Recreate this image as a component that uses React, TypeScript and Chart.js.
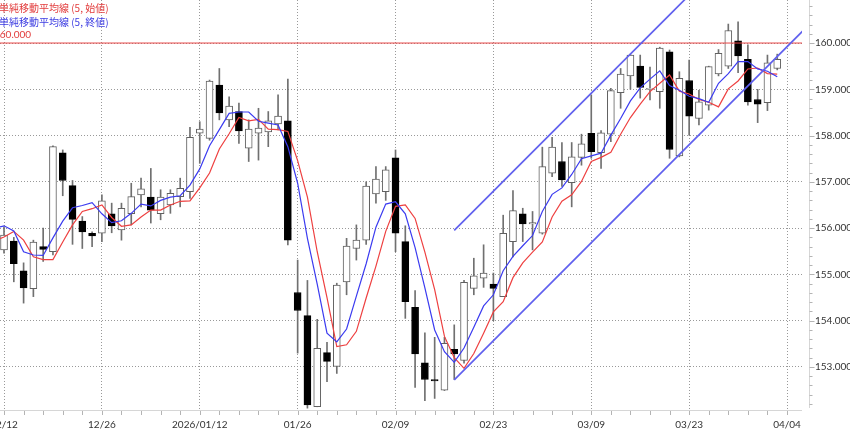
import React, { useEffect, useRef } from "react";
import { Chart, registerables } from "chart.js";

Chart.register(...registerables);

// ---- data ----
const xTickLabels = ["12/12", "12/26", "2026/01/12", "01/26", "02/09", "02/23", "03/09", "03/23", "04/04"];
const yTickValues = [153, 154, 155, 156, 157, 158, 159, 160];

const opens = [
  155.53, 155.72, 155.08, 154.69, 155.6, 155.49, 157.63, 156.92, 156.15, 155.89,
  155.89, 156.31, 155.96, 156.31, 156.72, 156.67, 156.31, 156.5, 156.68, 156.79,
  158.05, 157.94, 159.09, 158.34, 158.52, 157.73, 158.05, 158.08, 158.25, 158.32,
  154.61, 154.11, 152.14, 153.31, 153.01, 154.84, 155.56, 155.74, 156.74, 156.79,
  157.52, 155.71, 154.29, 153.09, 152.73, 152.5, 153.38, 153.14, 154.7, 154.92,
  154.79, 154.52, 155.71, 156.31, 156.09, 155.89, 157.19, 157.44, 156.98, 157.53,
  158.05, 157.63, 158.03, 158.93, 159.29, 159.5, 159.0, 158.95, 159.81, 157.56,
  159.19, 158.37, 158.66, 159.33, 159.5, 160.05, 159.65, 158.78, 158.71, 159.45,
];
const highs = [
  156.03, 155.8, 155.25, 155.74, 156.0, 157.78, 157.69, 157.03, 156.25, 155.92,
  156.72, 156.54, 156.54, 156.97, 157.08, 157.29, 156.83, 156.83, 157.08, 158.18,
  158.3, 159.2, 159.45, 158.84, 158.7, 158.34, 158.59, 158.52, 158.88, 159.22,
  155.31, 154.87, 154.03, 153.53, 154.81, 155.78, 156.07, 157.0, 157.33, 157.33,
  157.69, 156.05, 154.65, 153.74, 153.64, 153.64, 153.91, 154.87, 155.35, 155.64,
  155.03, 156.28, 156.81, 156.43, 156.36, 157.75, 157.96, 157.85, 157.85, 158.03,
  158.88, 158.11, 159.02, 159.45, 159.76, 159.74, 159.48, 159.91, 159.85, 159.38,
  159.63, 158.98, 159.5, 159.86, 160.41, 160.46, 159.96, 159.0, 159.74, 159.76,
];
const lows = [
  155.46, 154.84, 154.38, 154.52, 155.28, 155.42, 156.7, 155.65, 155.56, 155.6,
  155.71, 155.9, 155.74, 156.07, 156.46, 156.11, 156.18, 156.32, 156.46, 156.64,
  157.4, 157.9, 158.34, 158.19, 157.83, 157.44, 157.47, 157.76, 158.12, 155.64,
  153.3, 152.11, 152.14, 152.68, 152.86, 154.56, 155.31, 155.65, 156.54, 156.6,
  155.49, 154.05, 152.56, 152.27, 152.32, 152.49, 152.73, 153.08, 154.56, 154.72,
  154.0, 154.52, 155.38, 155.71, 155.53, 155.87, 157.11, 156.9, 156.46, 157.36,
  157.51, 157.29, 157.87, 158.59, 159.0, 158.81, 158.77, 158.59, 157.51, 157.54,
  158.01, 158.23, 158.55, 159.29, 159.45, 159.36, 158.66, 158.28, 158.54, 159.42,
];
const closes = [
  155.85, 155.23, 154.71, 155.7, 155.54, 157.76, 157.03, 156.19, 155.92, 155.83,
  156.59, 156.05, 156.43, 156.68, 156.85, 156.39, 156.67, 156.75, 156.86, 157.96,
  158.14, 159.18, 158.49, 158.64, 158.1, 158.14, 158.16, 158.32, 158.42, 155.74,
  154.22, 152.18, 153.4, 153.12, 154.77, 155.61, 155.74, 156.91, 157.06, 157.26,
  155.89, 154.41, 153.28, 152.73, 152.7, 153.51, 153.28, 154.83, 154.97, 155.03,
  154.7, 155.89, 156.38, 156.09, 156.12, 157.33, 157.75, 157.04, 157.54, 157.82,
  157.65, 158.06, 158.97, 159.33, 159.74, 159.04, 159.02, 159.89, 157.7, 159.24,
  158.42, 158.73, 159.49, 159.78, 160.27, 159.72, 158.73, 158.68, 159.57, 159.65,
];

// moving averages, starting one bar before the first visible candle
const maStartIndex = -1;
const maOpen = [
  155.72, 155.81, 155.93, 155.74, 155.38,
  155.32, 155.32, 155.7, 156.07, 156.36, 156.42,
  156.5, 156.23, 156.04, 156.07, 156.24, 156.39, 156.39, 156.5, 156.58, 156.59,
  156.87, 157.19, 157.71, 158.04, 158.39, 158.32, 158.35, 158.14, 158.13, 158.09,
  157.46, 156.67, 155.49, 154.5, 153.44, 153.48, 153.77, 154.49, 155.18, 155.93,
  156.47, 156.5, 156.21, 155.48, 154.67, 153.66, 153.2, 152.97, 153.29, 153.73,
  154.19, 154.41, 154.93, 155.25, 155.48, 155.7, 156.24, 156.58, 156.72, 157.01,
  157.44, 157.53, 157.64, 158.03, 158.39, 158.68, 158.95, 159.13, 159.31, 158.96,
  158.9, 158.78, 158.72, 158.62, 159.01, 159.18, 159.44, 159.46, 159.34, 159.33,
];
const maClose = [
  155.99, 156.05, 155.94, 155.49, 155.42,
  155.41, 155.79, 156.15, 156.44, 156.49, 156.55,
  156.31, 156.12, 156.16, 156.32, 156.52, 156.48, 156.6, 156.67, 156.7, 156.93,
  157.28, 157.78, 158.13, 158.48, 158.51, 158.51, 158.31, 158.27, 158.23, 157.76,
  156.97, 155.78, 154.79, 153.73, 153.54, 153.82, 154.53, 155.23, 156.02, 156.52,
  156.57, 156.31, 155.58, 154.71, 153.8, 153.33, 153.1, 153.41, 153.86, 154.32,
  154.56, 155.08, 155.39, 155.62, 155.84, 156.36, 156.73, 156.87, 157.16, 157.5,
  157.56, 157.62, 158.01, 158.37, 158.75, 159.03, 159.22, 159.4, 159.08, 158.98,
  158.85, 158.8, 158.72, 159.13, 159.34, 159.6, 159.6, 159.44, 159.39, 159.27,
];

const levelValue = 160;
const levelLabel = "160.000";
const channelX = [46, 81.6];
const channelLow = [152.72, 160.26];
const channelHigh = [155.95, 163.49];

const legendOpen = "単純移動平均線 (5, 始値)";
const legendClose = "単純移動平均線 (5, 終値)";

const xAxisMin = -0.41;
const xAxisMax = 81.53;
const yAxisMin = 152.07;
const yAxisMax = 160.93;

export default function App() {
  const ref = useRef<HTMLCanvasElement>(null);

  useEffect(() => {
    document.body.style.margin = "0";
    const canvas = ref.current;
    if (!canvas) return;
    const idx = opens.map((_, i) => i);
    const up = idx.map((i) => closes[i] >= opens[i]);

    const decor = {
      id: "decor",
      afterDraw(chart: any) {
        const { ctx, chartArea: a } = chart;
        const xs = chart.scales.x;
        const ys = chart.scales.y;
        ctx.save();
        ctx.lineWidth = 1;
        // x axis line
        ctx.strokeStyle = "#d6d6d6";
        ctx.beginPath();
        ctx.moveTo(a.left, Math.round(a.bottom) + 0.5);
        ctx.lineTo(a.right, Math.round(a.bottom) + 0.5);
        ctx.stroke();
        // x minor ticks (every 2 bars)
        ctx.strokeStyle = "#b4b4b4";
        ctx.beginPath();
        for (let i = 0; i <= 80; i += 2) {
          const px = Math.round(xs.getPixelForValue(i)) + 0.5;
          ctx.moveTo(px, a.bottom + 1);
          ctx.lineTo(px, a.bottom + 5);
        }
        ctx.stroke();
        // y axis line
        const axX = Math.round(a.right) + 7.5;
        ctx.strokeStyle = "#d6d6d6";
        ctx.beginPath();
        ctx.moveTo(axX, a.top);
        ctx.lineTo(axX, a.bottom - 2);
        ctx.stroke();
        ctx.strokeStyle = "#b4b4b4";
        ctx.beginPath();
        for (let k = Math.ceil(ys.min * 5); k <= Math.floor(ys.max * 5); k++) {
          const py = Math.round(ys.getPixelForValue(k / 5)) + 0.5;
          const len = k % 5 === 0 ? 5 : 3;
          ctx.moveTo(axX, py);
          ctx.lineTo(axX + len, py);
        }
        ctx.stroke();
        // legend texts
        ctx.textBaseline = "middle";
        ctx.textAlign = "left";
        ctx.font = '10px "Noto Sans CJK JP", sans-serif';
        ctx.fillStyle = "#e23c3c";
        ctx.fillText(legendOpen, -1, 8);
        ctx.fillStyle = "#3c3ce2";
        ctx.fillText(legendClose, -1, 22);
        ctx.font = "10px Lato, sans-serif";
        ctx.fillStyle = "#e23c3c";
        ctx.fillText(levelLabel, -6, 35);
        ctx.restore();
      },
    };

    const tickFont = { family: "Lato", size: 10 };

    const chart = new Chart(canvas, {
      type: "bar",
      data: {
        datasets: [
          {
            type: "bar",
            label: "wick",
            data: idx.map((i) => ({ x: i, y: [lows[i], highs[i]] })) as any,
            backgroundColor: "#707070",
            borderWidth: 0,
            barThickness: 1,
            grouped: false,
            order: 10,
          } as any,
          {
            type: "bar",
            label: "body",
            data: idx.map((i) => ({ x: i, y: [opens[i], closes[i]] })) as any,
            backgroundColor: up.map((u) => (u ? "#ffffff" : "#000000")),
            borderColor: up.map((u) => (u ? "#606060" : "#000000")),
            borderWidth: 1,
            borderSkipped: false,
            barThickness: 7,
            grouped: false,
            order: 9,
          } as any,
          {
            type: "line",
            label: "level",
            data: [
              { x: xAxisMin, y: levelValue },
              { x: xAxisMax, y: levelValue },
            ],
            borderColor: "#e84646",
            borderWidth: 1,
            pointRadius: 0,
            order: 5,
          } as any,
          {
            type: "line",
            label: "maOpen",
            data: maOpen.map((v, k) => ({ x: k + maStartIndex, y: v })),
            borderColor: "#ee4040",
            borderWidth: 1.2,
            pointRadius: 0,
            tension: 0,
            order: 4,
          } as any,
          {
            type: "line",
            label: "maClose",
            data: maClose.map((v, k) => ({ x: k + maStartIndex, y: v })),
            borderColor: "#3b3bf0",
            borderWidth: 1.2,
            pointRadius: 0,
            tension: 0,
            order: 3,
          } as any,
          {
            type: "line",
            label: "channelLow",
            data: channelX.map((x, k) => ({ x, y: channelLow[k] })),
            borderColor: "#6060ee",
            borderWidth: 1.7,
            pointRadius: 0,
            order: 2,
          } as any,
          {
            type: "line",
            label: "channelHigh",
            data: channelX.map((x, k) => ({ x, y: channelHigh[k] })),
            borderColor: "#6060ee",
            borderWidth: 1.7,
            pointRadius: 0,
            order: 1,
          } as any,
        ],
      },
      options: {
        animation: false,
        responsive: false,
        devicePixelRatio: 1,
        layout: { padding: 0 },
        plugins: { legend: { display: false }, tooltip: { enabled: false } },
        scales: {
          x: {
            type: "linear",
            min: xAxisMin,
            max: xAxisMax,
            offset: false,
            grid: { color: "#999999", drawTicks: false, offset: false, lineWidth: 1 },
            border: { display: false, dash: [1, 2] },
            ticks: {
              autoSkip: false,
              maxRotation: 0,
              minRotation: 0,
              padding: 9,
              color: "#333333",
              font: tickFont,
              callback: (v: any) => {
                const k = Math.round(Number(v) / 10);
                return xTickLabels[k] ?? "";
              },
            },
            afterBuildTicks: (s: any) => {
              s.ticks = xTickLabels.map((_, k) => ({ value: k * 10 }));
            },
            afterFit: (s: any) => {
              s.height = 20;
              s.paddingLeft = 0;
              s.paddingRight = 0;
            },
          },
          y: {
            type: "linear",
            position: "right",
            min: yAxisMin,
            max: yAxisMax,
            grid: { color: "#999999", drawTicks: false, lineWidth: 1 },
            border: { display: false, dash: [1, 2] },
            ticks: {
              padding: 13,
              color: "#333333",
              font: tickFont,
              callback: (v: any) => Number(v).toFixed(3),
            },
            afterBuildTicks: (s: any) => {
              s.ticks = yTickValues.map((v) => ({ value: v }));
            },
            afterFit: (s: any) => {
              s.width = 48;
              s.paddingTop = 0;
              s.paddingBottom = 0;
            },
          },
        },
      } as any,
      plugins: [decor],
    });

    return () => chart.destroy();
  }, []);

  return <canvas ref={ref} width={850} height={430} style={{ display: "block" }} />;
}
